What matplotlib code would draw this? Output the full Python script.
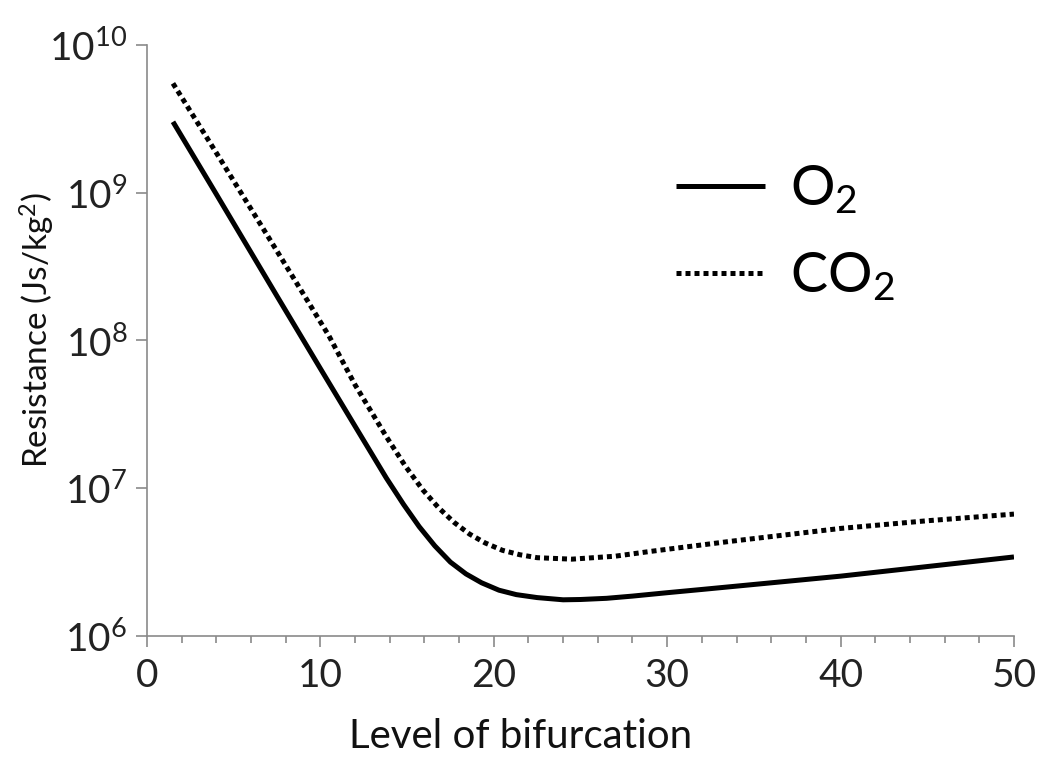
import numpy as np
import matplotlib
matplotlib.use("Agg")
import matplotlib.pyplot as plt
from matplotlib.ticker import FixedLocator, MultipleLocator, FuncFormatter

plt.rcParams['font.family'] = ['Lato', 'DejaVu Sans']
plt.rcParams['mathtext.fontset'] = 'custom'
plt.rcParams['mathtext.rm'] = 'Lato'
plt.rcParams['mathtext.default'] = 'regular'

# O2 resistance (log10 values)
o2_level = [1.5, 4, 7.5, 10, 12, 13.8, 14.8, 15.7, 16.6, 17.5, 18.4, 19.3, 20.3, 21.3, 22.5,
            24, 25, 26.5, 28, 30, 32, 36, 40, 45, 50]
o2_log = [9.48, 8.99, 8.30, 7.81, 7.42, 7.07, 6.89, 6.74, 6.61, 6.50, 6.42, 6.36, 6.31, 6.28, 6.26,
          6.245, 6.247, 6.255, 6.27, 6.293, 6.315, 6.36, 6.405, 6.47, 6.535]

# CO2 resistance
co2_level = [1.5, 4, 7, 9.2, 10.5, 12, 13.8, 14.9, 15.9, 16.8, 17.7, 18.6, 19.5, 20.5, 21.5, 22.5,
             24.5, 27, 29, 33.6, 40, 45, 50]
co2_log = [9.74, 9.27, 8.70, 8.28, 8.03, 7.70, 7.35, 7.15, 6.99, 6.87, 6.77, 6.69, 6.63, 6.58, 6.55,
           6.53, 6.52, 6.54, 6.572, 6.64, 6.728, 6.78, 6.825]

x_ticks = [0, 10, 20, 30, 40, 50]
y_ticks = [1e6, 1e7, 1e8, 1e9, 1e10]

fig = plt.figure(figsize=(10.49, 7.74), dpi=100)
ax = fig.add_axes([0.1401, 0.1783, 0.8265, 0.7636])

ax.plot(o2_level, 10 ** np.array(o2_log), color='black', lw=3.6, label='O$_2$',
        solid_capstyle='butt', solid_joinstyle='round')
ax.plot(co2_level, 10 ** np.array(co2_log), color='black', lw=3.6, ls=(0, (1, 0.8)),
        label='CO$_2$')

ax.set_yscale('log')
ax.set_xlim(0, 50)
ax.set_ylim(1e6, 1e10)

ax.xaxis.set_major_locator(FixedLocator(x_ticks))
ax.xaxis.set_minor_locator(MultipleLocator(2))
ax.yaxis.set_major_locator(FixedLocator(y_ticks))
ax.yaxis.set_minor_locator(FixedLocator([]))
ax.yaxis.set_major_formatter(FuncFormatter(lambda v, p: r'$10^{%d}$' % round(np.log10(v))))

for s in ['top', 'right']:
    ax.spines[s].set_visible(False)
for s in ['left', 'bottom']:
    ax.spines[s].set_color('#8a8a8a')
    ax.spines[s].set_linewidth(1.2)

ax.tick_params(axis='both', which='major', direction='out', length=8, width=1.2,
               color='#8a8a8a', labelsize=28, labelcolor='#222222')
ax.tick_params(axis='x', which='minor', direction='out', length=5, width=1.2, color='#8a8a8a')
ax.tick_params(axis='x', which='major', pad=8)
ax.tick_params(axis='y', which='major', pad=6)

ax.set_xlabel('Level of bifurcation', fontsize=29, color='#111111')
ax.xaxis.set_label_coords(0.431, -0.139)
ax.set_ylabel('Resistance (Js/kg$^2$)', fontsize=24, color='#111111')
ax.yaxis.set_label_coords(-0.104, 0.518)

leg = ax.legend(loc='upper left', bbox_to_anchor=(0.553, 0.884), frameon=False,
                fontsize=40, handlelength=1.6, handletextpad=0.45, labelspacing=0.62)

fig.savefig('out.png', dpi=100)
